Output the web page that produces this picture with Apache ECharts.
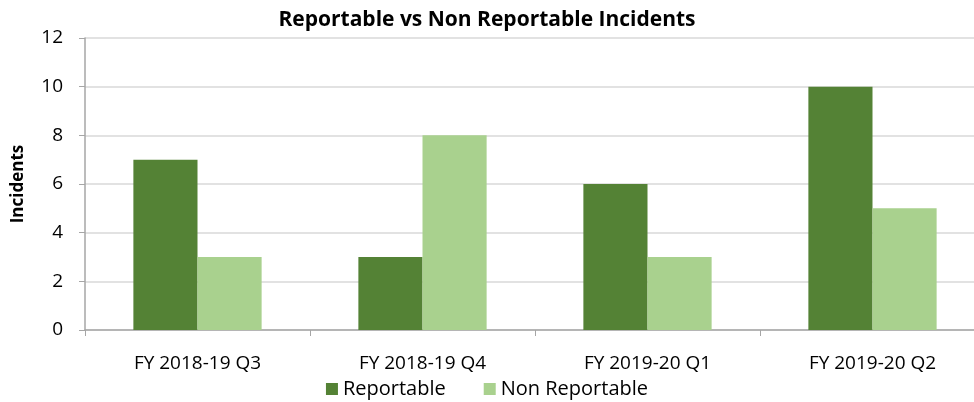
<!DOCTYPE html>
<html>
<head>
<meta charset="utf-8">
<title>Reportable vs Non Reportable Incidents</title>
<script src="https://cdn.jsdelivr.net/npm/echarts@6/dist/echarts.min.js"></script>
<style>
  html, body { margin: 0; padding: 0; background: #fff; }
  #chart { width: 974px; height: 402px; }
</style>
</head>
<body>
<div id="chart"></div>
<script>
// data
var categories = ['FY 2018-19 Q3', 'FY 2018-19 Q4', 'FY 2019-20 Q1', 'FY 2019-20 Q2'];
var reportable = [7, 3, 6, 10];
var nonReportable = [3, 8, 3, 5];
var seriesNames = ['Reportable', 'Non Reportable'];

var FONT = '"Open Sans", "Liberation Sans", sans-serif';

var myChart = echarts.init(document.getElementById('chart'), null, { renderer: 'canvas' });
var option = {
    animation: false,
    textStyle: { fontFamily: FONT },
    title: {
        text: 'Reportable vs Non Reportable Incidents',
        left: 'center',
        top: 5,
        textStyle: { fontSize: 21, fontWeight: 'bold', color: '#000', fontFamily: FONT }
    },
    legend: {
        data: seriesNames,
        bottom: -2,
        left: 'center',
        itemWidth: 12,
        itemHeight: 12,
        itemGap: 38,
        icon: 'rect',
        textStyle: { fontSize: 20, color: '#000', fontFamily: FONT }
    },
    // plot area runs a little past the right edge of the picture
    grid: { left: 85, top: 38, width: 900, bottom: 72, outerBoundsMode: 'none', containLabel: false },
    xAxis: {
        type: 'category',
        data: categories,
        axisLine: { lineStyle: { color: '#a6a6a6', width: 1.5 } },
        axisTick: { show: true, length: 6, lineStyle: { color: '#a6a6a6' } },
        axisLabel: { fontSize: 19, color: '#000', margin: 24, fontFamily: FONT }
    },
    yAxis: {
        type: 'value',
        min: 0, max: 12, interval: 2,
        name: 'Incidents',
        nameLocation: 'middle',
        nameGap: 58,
        nameTextStyle: { fontSize: 17, fontWeight: 'bold', color: '#000', fontFamily: FONT },
        axisLine: { show: true, lineStyle: { color: '#a6a6a6', width: 1.5 } },
        axisTick: { show: true, length: 6, lineStyle: { color: '#a6a6a6' } },
        axisLabel: { fontSize: 19, color: '#000', margin: 22, fontFamily: FONT },
        splitLine: { lineStyle: { color: '#d9d9d9', width: 1.5 } }
    },
    series: [
        { name: seriesNames[0], type: 'bar', data: reportable, barGap: '0%', barCategoryGap: '43%',
          itemStyle: { color: '#548235' } },
        { name: seriesNames[1], type: 'bar', data: nonReportable, barGap: '0%', barCategoryGap: '43%',
          itemStyle: { color: '#a9d18e' } }
    ]
};
myChart.setOption(option);
</script>
</body>
</html>
